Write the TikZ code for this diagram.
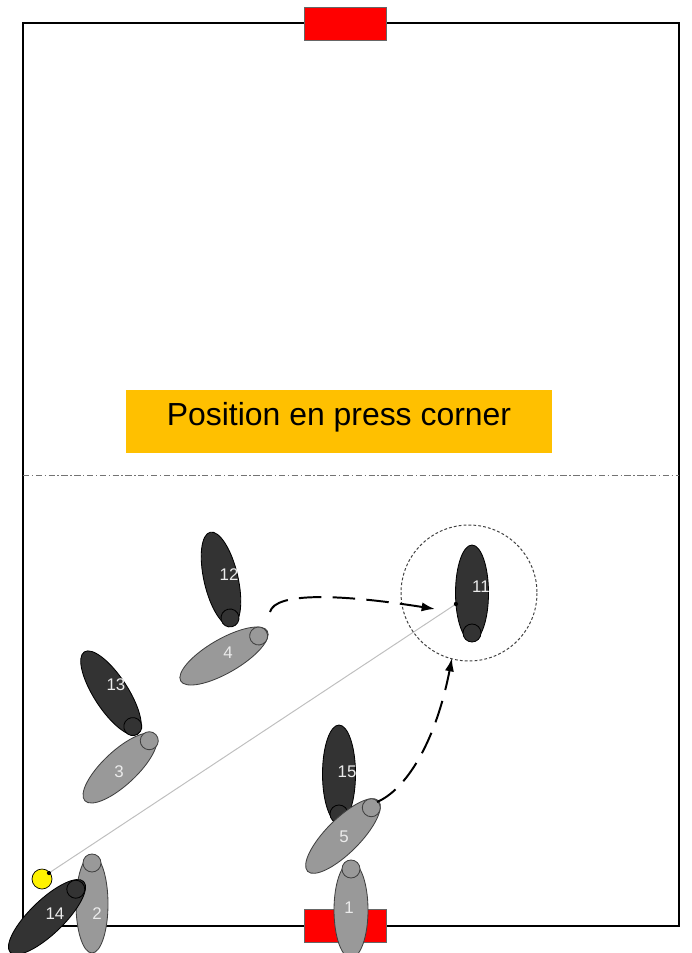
\documentclass[tikz,border=0pt]{standalone}
\usepackage{fontspec}
\setmainfont{Liberation Sans}
\usepackage{xcolor}
\usepackage{tikz}
\usetikzlibrary{positioning,arrows.meta}
\definecolor{dkpl}{HTML}{333333}
\definecolor{gypl}{HTML}{999999}
\definecolor{goalred}{HTML}{FF0000}
\definecolor{boxgold}{HTML}{FFC000}

\begin{document}
\begin{tikzpicture}[x=0.025cm,y=-0.025cm,
  darkpl/.style={fill=dkpl,draw=black,line width=0.6pt},
  greypl/.style={fill=gypl,draw=black!75,line width=0.6pt},
  num/.style={text=white!92!black,font=\fontsize{12}{14}\selectfont,inner sep=0pt},
  goal/.style={fill=goalred,draw=black!60,line width=0.6pt},
  run/.style={line width=1.4pt,dash pattern=on 16pt off 8pt,-{Latex[length=9.5pt,width=6.5pt]}},
  dot/.style={circle,fill=black,inner sep=0pt,minimum size=3pt}]
\useasboundingbox (0,0) rectangle (691,953);
\draw[line width=1.4pt] (23,23) rectangle (679,926);
\draw[black!55, line width=0.7pt, dash pattern=on 4.5pt off 1.8pt on 1pt off 1.8pt] (23,475) -- (679,475);
\node[fill=boxgold,minimum width=10.65cm,minimum height=1.575cm,inner sep=0pt,text depth=10.5pt,font=\fontsize{22.7}{27}\selectfont] (title) at (339,421.5) {Position en press corner};
\draw[goal] (304,7) rectangle (386,40);
\draw[goal] (304,909) rectangle (386,942);
\node[circle,fill=yellow,draw=black,line width=0.5pt,inner sep=0pt,minimum size=0.5cm] (ball) at (42,879) {};
\node[dot] (kick) at (49,873) {};
\node[dot] (recv) at (456,604) {};
\draw[black!25, line width=0.7pt] (kick) -- (recv);
\begin{scope}[shift={(221,579)},rotate=13]
\draw[darkpl] (0,0) ellipse (17 and 48);
\draw[darkpl] (0,40) circle (9);
\end{scope}
\node[num] (p12) at (229,575) {12};
\begin{scope}[shift={(224,656)},rotate=-60]
\draw[greypl] (0,0) ellipse (17 and 50);
\draw[greypl] (0,-40) circle (9);
\end{scope}
\node[num] (p4) at (228,653) {4};
\begin{scope}[shift={(472,593)}]
\draw[darkpl] (0,0) ellipse (16.5 and 48);
\draw[darkpl] (0,40) circle (9);
\end{scope}
\node[num] (p11) at (481,587) {11};
\node[dot] at (recv) {};
\begin{scope}[shift={(111,693)},rotate=33]
\draw[darkpl] (0,0) ellipse (17 and 49);
\draw[darkpl] (0,40) circle (9);
\end{scope}
\node[num] (p13) at (116,685) {13};
\begin{scope}[shift={(120,768)},rotate=-47]
\draw[greypl] (0,0) ellipse (17 and 48);
\draw[greypl] (0,-40) circle (9);
\end{scope}
\node[num] (p3) at (119,772) {3};
\begin{scope}[shift={(339,774)}]
\draw[darkpl] (0,0) ellipse (16.5 and 49);
\draw[darkpl] (0,40) circle (9);
\end{scope}
\node[num] (p15) at (347,772) {15};
\begin{scope}[shift={(343,836)},rotate=-45]
\draw[greypl] (0,0) ellipse (17 and 50);
\draw[greypl] (0,-40) circle (9);
\end{scope}
\node[num] (p5) at (344,837) {5};
\begin{scope}[shift={(351,910)}]
\draw[greypl] (0,0) ellipse (17 and 48);
\draw[greypl] (0,-41) circle (9);
\end{scope}
\node[num] (p1) at (349,908) {1};
\begin{scope}[shift={(92,904)}]
\draw[greypl] (0,0) ellipse (16 and 49);
\draw[greypl] (0,-41) circle (9);
\end{scope}
\node[num] (p2) at (97,914) {2};
\begin{scope}[shift={(47,917)},rotate=-46]
\draw[darkpl] (0,0) ellipse (17 and 51);
\draw[darkpl] (0,-40) circle (9);
\end{scope}
\node[num] (p14) at (55,914) {14};
\draw[black!75, line width=0.7pt, dash pattern=on 2pt off 1.5pt] (469,593) circle (68);
\coordinate (from4) at (270,612);
\coordinate (to11) at (435,609);
\coordinate (from5) at (377,802);
\coordinate (to11b) at (452,658);
\draw[run] (from4) .. controls (275,592) and (340,594) .. (to11);
\draw[run] (from5) .. controls (405,790) and (435,745) .. (to11b);
\end{tikzpicture}
\end{document}
